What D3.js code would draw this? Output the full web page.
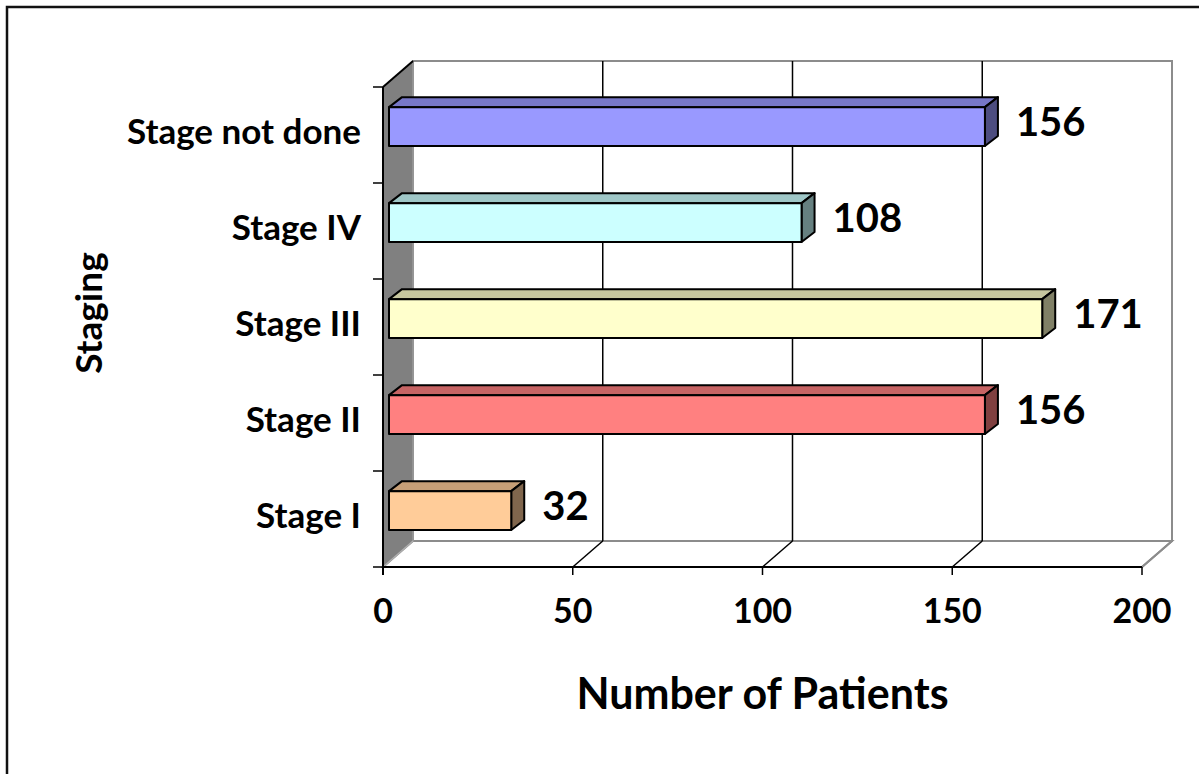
<!DOCTYPE html>
<html>
<head>
<meta charset="utf-8">
<script src="https://cdn.jsdelivr.net/npm/d3@7"></script>
<style>
  html, body { margin: 0; padding: 0; background: #fff; }
  svg { display: block; }
  text { font-family: Lato, "Open Sans", sans-serif; font-weight: 700; fill: #000; }
</style>
</head>
<body>
<svg id="chart" width="1199" height="774"></svg>
<script>
// Patients by stage
const categories = ["Stage I", "Stage II", "Stage III", "Stage IV", "Stage not done"];
const patients   = [32, 156, 171, 108, 156];
const faceColors = ["#FFCC99", "#FF8080", "#FFFFCC", "#CCFFFF", "#9999FF"];
const xTicks     = [0, 50, 100, 150, 200];

const svg = d3.select("#chart");
const W = 1199, H = 774;

// Front plane of the plot box and the 3-D depth vector of the walls
const front = { left: 383, right: 1142, top: 87, bottom: 567 };
const wallDepth = { dx: 30, dy: -26 };
// Bars sit part-way into the depth, with their own thickness
const barOffset = { dx: 6, dy: -8 };
const barDepth  = { dx: 13, dy: -10 };

const x = d3.scaleLinear().domain([0, 200]).range([front.left, front.right]);
// Bar plane lies slightly behind the front plane, so it is marginally wider
const xBar = d3.scaleLinear().domain([0, 200]).range([front.left + barOffset.dx, front.left + barOffset.dx + 764]);
const y = d3.scaleBand().domain(categories.slice().reverse()).range([front.top, front.bottom]);

// Outer frame
svg.append("rect")
  .attr("x", 7).attr("y", 7).attr("width", W + 20).attr("height", H + 20)
  .attr("fill", "none").attr("stroke", "#111").attr("stroke-width", 2.5);

const path = pts => "M" + pts.map(p => p.join(",")).join("L") + "Z";
const back = {
  left: front.left + wallDepth.dx, right: front.right + wallDepth.dx,
  top: front.top + wallDepth.dy, bottom: front.bottom + wallDepth.dy
};

// Back wall
svg.append("rect")
  .attr("x", back.left).attr("y", back.top)
  .attr("width", back.right - back.left).attr("height", back.bottom - back.top)
  .attr("fill", "#fff").attr("stroke", "#8c8c8c").attr("stroke-width", 2);

// Floor
svg.append("path")
  .attr("d", path([[front.left, front.bottom], [front.right, front.bottom],
                   [back.right, back.bottom], [back.left, back.bottom]]))
  .attr("fill", "#fff").attr("stroke", "#8c8c8c").attr("stroke-width", 2);

// Gridlines: vertical on the back wall, diagonal across the floor
const grid = svg.append("g");
xTicks.filter(t => t > 0).forEach(t => {
  const xf = x(t), xb = xf + wallDepth.dx;
  if (t < 200) {
    grid.append("line").attr("x1", xb).attr("x2", xb)
      .attr("y1", back.top).attr("y2", back.bottom)
      .attr("stroke", "#000").attr("stroke-width", 1.5);
  }
  grid.append("line").attr("x1", xf).attr("y1", front.bottom)
    .attr("x2", xb).attr("y2", back.bottom)
    .attr("stroke", t < 200 ? "#000" : "#8c8c8c").attr("stroke-width", t < 200 ? 1.5 : 2);
});

// Left side wall
svg.append("path")
  .attr("d", path([[front.left, front.top], [back.left, back.top],
                   [back.left, back.bottom], [front.left, front.bottom]]))
  .attr("fill", "#808080").attr("stroke", "none");
svg.append("line").attr("x1", back.left).attr("x2", back.left)
  .attr("y1", back.top).attr("y2", back.bottom).attr("stroke", "#9a9a9a").attr("stroke-width", 1.5);
svg.append("line").attr("x1", front.left).attr("y1", front.bottom)
  .attr("x2", back.left).attr("y2", back.bottom).attr("stroke", "#b0b0b0").attr("stroke-width", 1.5);
svg.append("line").attr("x1", front.left).attr("y1", front.top)
  .attr("x2", back.left).attr("y2", back.top).attr("stroke", "#000").attr("stroke-width", 2);

// Axis lines and ticks
svg.append("line").attr("x1", front.left).attr("x2", front.left)
  .attr("y1", front.top).attr("y2", front.bottom + 8).attr("stroke", "#000").attr("stroke-width", 2);
svg.append("line").attr("x1", front.left).attr("x2", front.right)
  .attr("y1", front.bottom).attr("y2", front.bottom).attr("stroke", "#000").attr("stroke-width", 2);

const yBounds = categories.map(c => y(c)).concat([front.bottom]);
svg.append("g").selectAll("line").data(yBounds).join("line")
  .attr("x1", front.left - 10).attr("x2", front.left)
  .attr("y1", d => d).attr("y2", d => d)
  .attr("stroke", "#000").attr("stroke-width", 1.5);

svg.append("g").selectAll("line").data(xTicks).join("line")
  .attr("x1", d => x(d)).attr("x2", d => x(d))
  .attr("y1", front.bottom).attr("y2", front.bottom + 8)
  .attr("stroke", "#000").attr("stroke-width", 1.5);

svg.append("g").selectAll("text").data(xTicks).join("text")
  .attr("x", d => x(d)).attr("y", 623)
  .attr("text-anchor", "middle").attr("font-size", 34)
  .text(d => d);

// Category labels
svg.append("g").selectAll("text").data(categories).join("text")
  .attr("x", 361).attr("y", c => y(c) + y.bandwidth() / 2 + 9)
  .attr("text-anchor", "end").attr("font-size", 35)
  .text(c => c);

// 3-D bars
const darken = (c, k) => { const r = d3.rgb(c); return d3.rgb(r.r * k, r.g * k, r.b * k).toString(); };
const bars = svg.append("g");
categories.forEach((c, i) => {
  const v = patients[i];
  const x0 = xBar(0);
  const x1 = xBar(v);
  const y0 = y(c) + y.bandwidth() * 0.21 + barOffset.dy + 8;
  const y1 = y0 + y.bandwidth() * 0.405;
  const dx = barDepth.dx, dy = barDepth.dy;
  const g = bars.append("g").attr("stroke", "#000").attr("stroke-width", 2).attr("stroke-linejoin", "round");
  g.append("path").attr("d", path([[x0, y0], [x0 + dx, y0 + dy], [x1 + dx, y0 + dy], [x1, y0]]))
    .attr("fill", darken(faceColors[i], 0.78));
  g.append("path").attr("d", path([[x1, y0], [x1 + dx, y0 + dy], [x1 + dx, y1 + dy], [x1, y1]]))
    .attr("fill", darken(faceColors[i], 0.5));
  g.append("rect").attr("x", x0).attr("y", y0).attr("width", x1 - x0).attr("height", y1 - y0)
    .attr("fill", faceColors[i]);
  // value label
  svg.append("text")
    .attr("x", x1 + 31).attr("y", (y0 + y1) / 2 + 9)
    .attr("font-size", 40)
    .text(v);
});

// Axis titles
svg.append("text")
  .attr("x", x(100)).attr("y", 709)
  .attr("text-anchor", "middle").attr("font-size", 43)
  .text("Number of Patients");
svg.append("text")
  .attr("transform", "translate(102,313) rotate(-90)")
  .attr("text-anchor", "middle").attr("font-size", 37)
  .text("Staging");
</script>
</body>
</html>
